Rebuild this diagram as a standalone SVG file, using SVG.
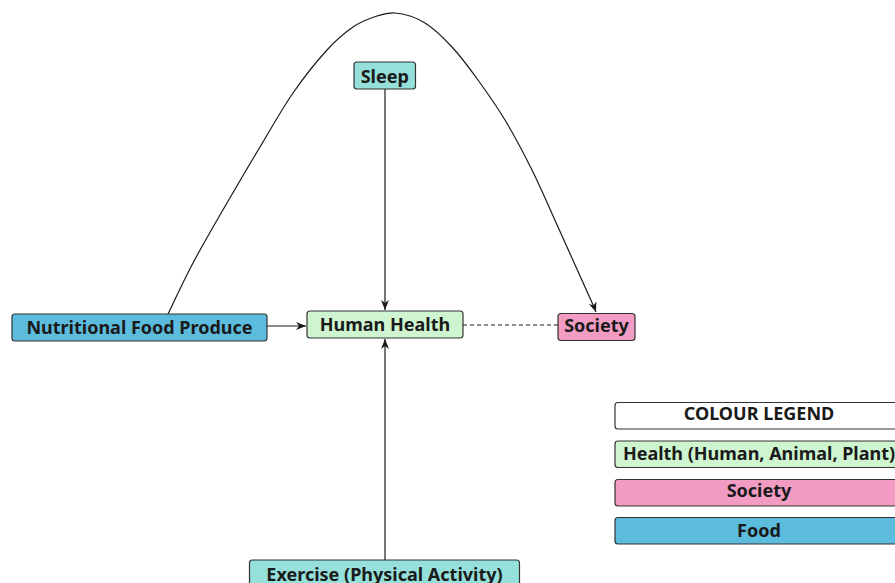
<svg xmlns="http://www.w3.org/2000/svg" width="895" height="583" viewBox="0 0 895 583">
<style>
.box{stroke:#333;stroke-width:1.2}
.lbl{font-family:"Noto Sans","Open Sans","DejaVu Sans",sans-serif;font-weight:bold;font-size:18px;fill:#1a1a1a;text-anchor:middle}
.edge{fill:none;stroke:#1a1a1a;stroke-width:1.2}
.food{fill:#5cbcdd}
.health{fill:#cff5d0}
.society{fill:#f29cc3}
.teal{fill:#95e0da}
.white{fill:#ffffff}
</style>
<defs>
<marker id="arr" markerUnits="userSpaceOnUse" markerWidth="12" markerHeight="10" refX="10" refY="4" orient="auto">
<path d="M0,0 L10,4 L0,8 L3,4 z" fill="#1a1a1a"/>
</marker>
</defs>
<rect width="895" height="583" fill="#ffffff"/>
<g id="connectors">
<path class="edge" marker-end="url(#arr)" d="M168,314 C172.2,305.5 183.2,281.5 193,263 C202.8,244.5 215.8,222.3 227,203 C238.2,183.7 249,165.3 260,147 C271,128.7 281.8,109.2 293,93 C304.2,76.8 317,61 327,50 C337,39 344.7,32.7 353,27 C361.3,21.3 370,18.3 377,16 C384,13.7 387,12.5 395,13 C403,13.6 415.5,17.3 425,23 C434.5,28.7 443.2,37.5 452,47 C460.8,56.5 469.2,67.8 478,80 C486.8,92.2 496,105 505,120 C514,135 523.2,152.2 532,170 C540.8,187.8 549.2,207.5 558,227 C566.8,246.5 578.7,273 585,287 C591.3,301 594.2,307 596,312"/>
<line class="edge" marker-end="url(#arr)" x1="385" y1="89" x2="385" y2="310"/>
<line class="edge" marker-end="url(#arr)" x1="267" y1="326" x2="306" y2="326"/>
<line class="edge" marker-end="url(#arr)" x1="385" y1="560" x2="385" y2="339"/>
<line class="edge" stroke-dasharray="4 3" x1="463" y1="325" x2="558" y2="325"/>
</g>
<g id="nutritional">
<rect class="box food" x="12" y="314" width="255" height="27" rx="3"/>
<text class="lbl" x="139.5" y="333.5">Nutritional Food Produce</text>
</g>
<g id="human-health">
<rect class="box health" x="307" y="311" width="156" height="27" rx="3"/>
<text class="lbl" x="385" y="331">Human Health</text>
</g>
<g id="society">
<rect class="box society" x="558" y="313.5" width="77" height="27" rx="3"/>
<text class="lbl" x="596.5" y="331.5">Society</text>
</g>
<g id="sleep">
<rect class="box teal" x="354" y="62" width="61.5" height="27" rx="3"/>
<text class="lbl" x="384.75" y="82.5">Sleep</text>
</g>
<g id="exercise">
<rect class="box teal" x="249.5" y="560" width="270" height="27" rx="3"/>
<text class="lbl" x="384.5" y="581">Exercise (Physical Activity)</text>
</g>
<g id="legend-title">
<rect class="box white" x="615" y="402.5" width="288" height="26.5" rx="3"/>
<text class="lbl" x="759" y="420">COLOUR LEGEND</text>
</g>
<g id="legend-health">
<rect class="box health" x="615" y="441" width="288" height="26.5" rx="3"/>
<text class="lbl" x="759" y="460">Health (Human, Animal, Plant)</text>
</g>
<g id="legend-society">
<rect class="box society" x="615" y="479.5" width="288" height="26.5" rx="3"/>
<text class="lbl" x="759" y="497">Society</text>
</g>
<g id="legend-food">
<rect class="box food" x="615" y="517.5" width="288" height="26.5" rx="3"/>
<text class="lbl" x="759" y="537">Food</text>
</g>
</svg>
